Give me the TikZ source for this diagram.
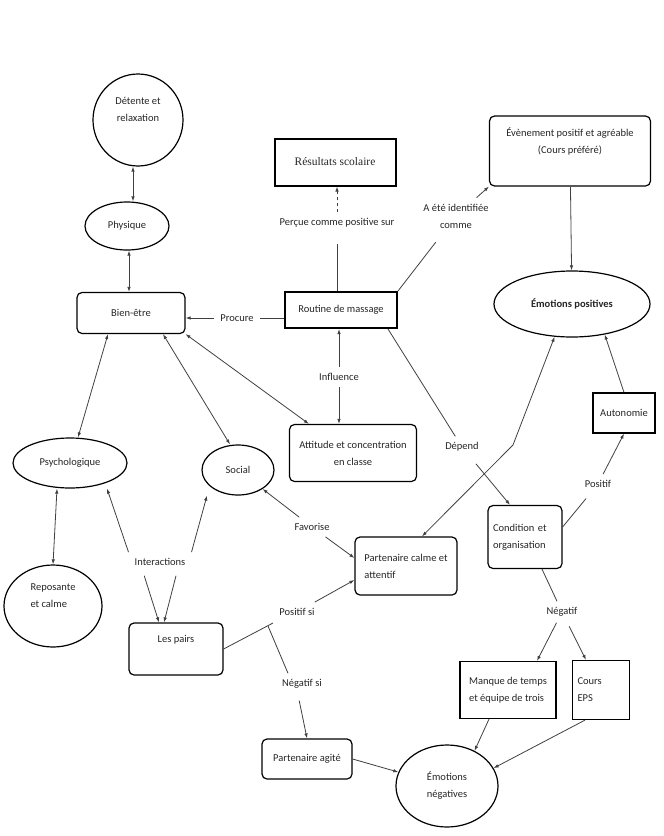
\documentclass[tikz,border=0pt]{standalone}
\usepackage{fontspec}
\setmainfont{Carlito}
\newfontfamily\serifbox{Liberation Serif}
\usetikzlibrary{shapes.geometric,arrows.meta}
\newcommand{\mapfont}{\fontsize{10.5}{17}\selectfont}

\begin{document}
\begin{tikzpicture}[x=1pt, y=-1pt,
    >={Latex[length=5pt,width=3.5pt]},
    every node/.style={font=\mapfont, text=black!85},
    conn/.style={black!75, line width=0.8pt},
    box/.style={draw, line width=1.2pt, rounded corners=5pt, align=center, inner sep=2pt},
    sqbox/.style={draw, line width=1.2pt, align=left, inner sep=2pt},
    oval/.style={draw, ellipse, line width=1.2pt, align=center, inner sep=0pt},
    lbl/.style={inner sep=6pt, align=center}]
    \useasboundingbox (0,0) rectangle (664,836);

    % Left column: well-being
    \node[oval, minimum width=90pt, minimum height=92pt] (detente) at (138,120) {Détente et\\relaxation\\[4pt]};
    \node[oval, minimum width=84pt, minimum height=48pt] (physique) at (127,226) {Physique};
    \node[box, minimum width=108pt, minimum height=41pt] (bienetre) at (131,313) {Bien-être};
    \node[oval, minimum width=114pt, minimum height=50pt] (psycho) at (70,463) {Psychologique};
    \node[oval, minimum width=72pt, minimum height=50pt] (social) at (238,470) {Social};
    \node[oval, minimum width=98pt, minimum height=82pt, align=left] (reposante) at (53,606) {Reposante\\et calme\\[4pt]};
    \node[box, minimum width=94pt, minimum height=52pt] (lespairs) at (176,649) {Les pairs\\[4pt]};

    % Centre: the massage routine
    \node[draw, line width=2pt, minimum width=121pt, minimum height=47pt,
          font=\serifbox\fontsize{11.5}{13}\selectfont] (resultats) at (335,162) {Résultats scolaire};
    \node[draw, line width=2pt, minimum width=112pt, minimum height=36pt] (routine) at (341,310) {Routine de massage};
    \node[box, minimum width=127pt, minimum height=57pt] (attitude) at (353,453) {Attitude et concentration\\en classe};
    \node[box, minimum width=102pt, minimum height=58pt, align=left] (partcalme) at (406,566) {Partenaire calme et\\attentif};
    \node[box, minimum width=90pt, minimum height=40pt] (agite) at (307,759) {Partenaire agité};

    % Right column: emotions
    \node[box, minimum width=161pt, minimum height=70pt] (evenement) at (570,151) {Évènement positif et agréable\\(Cours préféré)\\[4pt]};
    \node[oval, minimum width=156pt, minimum height=66pt, font=\mapfont\bfseries] (emopos) at (572,304) {Émotions positives};
    \node[sqbox, minimum width=62pt, minimum height=40pt] (autonomie) at (624,413) {Autonomie};
    \node[box, minimum width=74pt, minimum height=63pt, text width=64pt, align=left] (condition) at (525,537) {Condition et\\organisation};
    \node[sqbox, minimum width=96pt, minimum height=57pt] (manque) at (508,690) {Manque de temps\\et équipe de trois};
    \node[sqbox, minimum width=57pt, minimum height=59pt, text width=47pt] (cours) at (601,690) {Cours\\EPS};
    \node[oval, minimum width=102pt, minimum height=82pt] (emoneg) at (447,786) {Émotions\\négatives};

    % Link labels
    \node[lbl] (procure) at (237,318) {Procure};
    \node[lbl] (percue) at (337,223) {Perçue comme positive sur};
    \node[lbl] (aete) at (456,216) {A été identifiée\\comme};
    \node[lbl] (influence) at (339,377) {Influence};
    \node[lbl] (depend) at (462,447) {Dépend};
    \node[lbl] (favorise) at (312,527) {Favorise};
    \node[lbl] (interactions) at (160,562) {Interactions};
    \node[lbl] (positifsi) at (297,612) {Positif si};
    \node[lbl] (negatifsi) at (302,684) {Négatif si};
    \node[lbl] (positif) at (598,484) {Positif};
    \node[lbl] (negatif) at (562,612) {Négatif};
    \coordinate (bend) at (513,445);
    \coordinate (fork) at (273,623);
    \coordinate (split) at (268,626);

    % Well-being links
    \draw[conn, <->] ([xshift=-5pt]detente.south) -- ([xshift=6pt]physique.north);
    \draw[conn, <->] ([xshift=2pt]physique.south) -- ([xshift=-2pt]bienetre.north);
    \draw[conn, <->] ([xshift=-23pt]bienetre.south) -- ([xshift=8pt]psycho.north);
    \draw[conn, <->] ([xshift=32pt]bienetre.south) -- ([xshift=-8pt]social.north);
    \draw[conn, <->] (bienetre.south east) -- ([xshift=20pt]attitude.north west);
    \draw[conn, <->] ([xshift=-13pt]psycho.south) -- (reposante.north);

    % Routine links
    \draw[conn, ->] (procure) -- (bienetre.east |- procure);
    \draw[conn] (procure) -- (routine.west |- procure);
    \draw[conn, shorten <=10pt] (percue) -- (percue |- routine.north);
    \draw[conn, ->, dashed] (percue) -- (percue |- resultats.south);
    \draw[conn, shorten >=10pt] (routine.north east) -- (aete);
    \draw[conn, ->] (aete) -- (evenement.south west);
    \draw[conn, ->] (influence) -- (influence |- routine.south);
    \draw[conn, ->] (influence) -- (influence |- attitude.north);
    \draw[conn] ([xshift=-10pt]routine.south east) -- (depend);
    \draw[conn, ->, shorten <=8pt] (depend) -- ([xshift=-15pt]condition.north);

    % Emotion links
    \draw[conn, ->] (evenement) -- (emopos);
    \draw[conn, shorten >=6pt] ([yshift=10pt]condition.east) -- (positif);
    \draw[conn, ->] (positif) -- (autonomie.south);
    \draw[conn, ->] (autonomie.north) -- (emopos.-43);
    \draw[conn, <->] ([xshift=16pt]partcalme.north) -- (bend) -- (emopos.-118);
    \draw[conn] ([xshift=17pt]condition.south) -- (negatif);
    \draw[conn, ->] (negatif) -- ([xshift=29pt]manque.north);
    \draw[conn, ->, shorten <=4pt] (negatif) -- ([xshift=-15pt]cours.north);
    \draw[conn, ->] ([xshift=-19pt]manque.south) -- (emoneg.52);
    \draw[conn, ->] ([xshift=-16pt]cours.south) -- (emoneg.21);

    % Peer links
    \draw[conn, ->] (favorise) -- (social);
    \draw[conn, ->] (favorise) -- ([yshift=8pt]partcalme.west);
    \draw[conn, ->] (interactions.north west) -- ([xshift=37pt]psycho.south);
    \draw[conn, ->] (interactions.north east) -- ([xshift=-31pt]social.south);
    \draw[conn, ->, shorten <=4pt] ([xshift=-17pt]interactions.south) -- ([xshift=-17pt]lespairs.north);
    \draw[conn, ->, shorten <=4pt] ([xshift=17pt]interactions.south) -- ([xshift=-12pt]lespairs.north);
    \draw[conn] (lespairs.east) -- (fork);
    \draw[conn, ->] (positifsi) -- ([yshift=-14pt]partcalme.west);
    \draw[conn] (split) -- ([xshift=-14pt]negatifsi.north);
    \draw[conn, ->, shorten <=6pt] ([xshift=-4pt]negatifsi.south) -- (agite.north);
    \draw[conn, ->] (agite.east) -- (emoneg);
\end{tikzpicture}
\end{document}
